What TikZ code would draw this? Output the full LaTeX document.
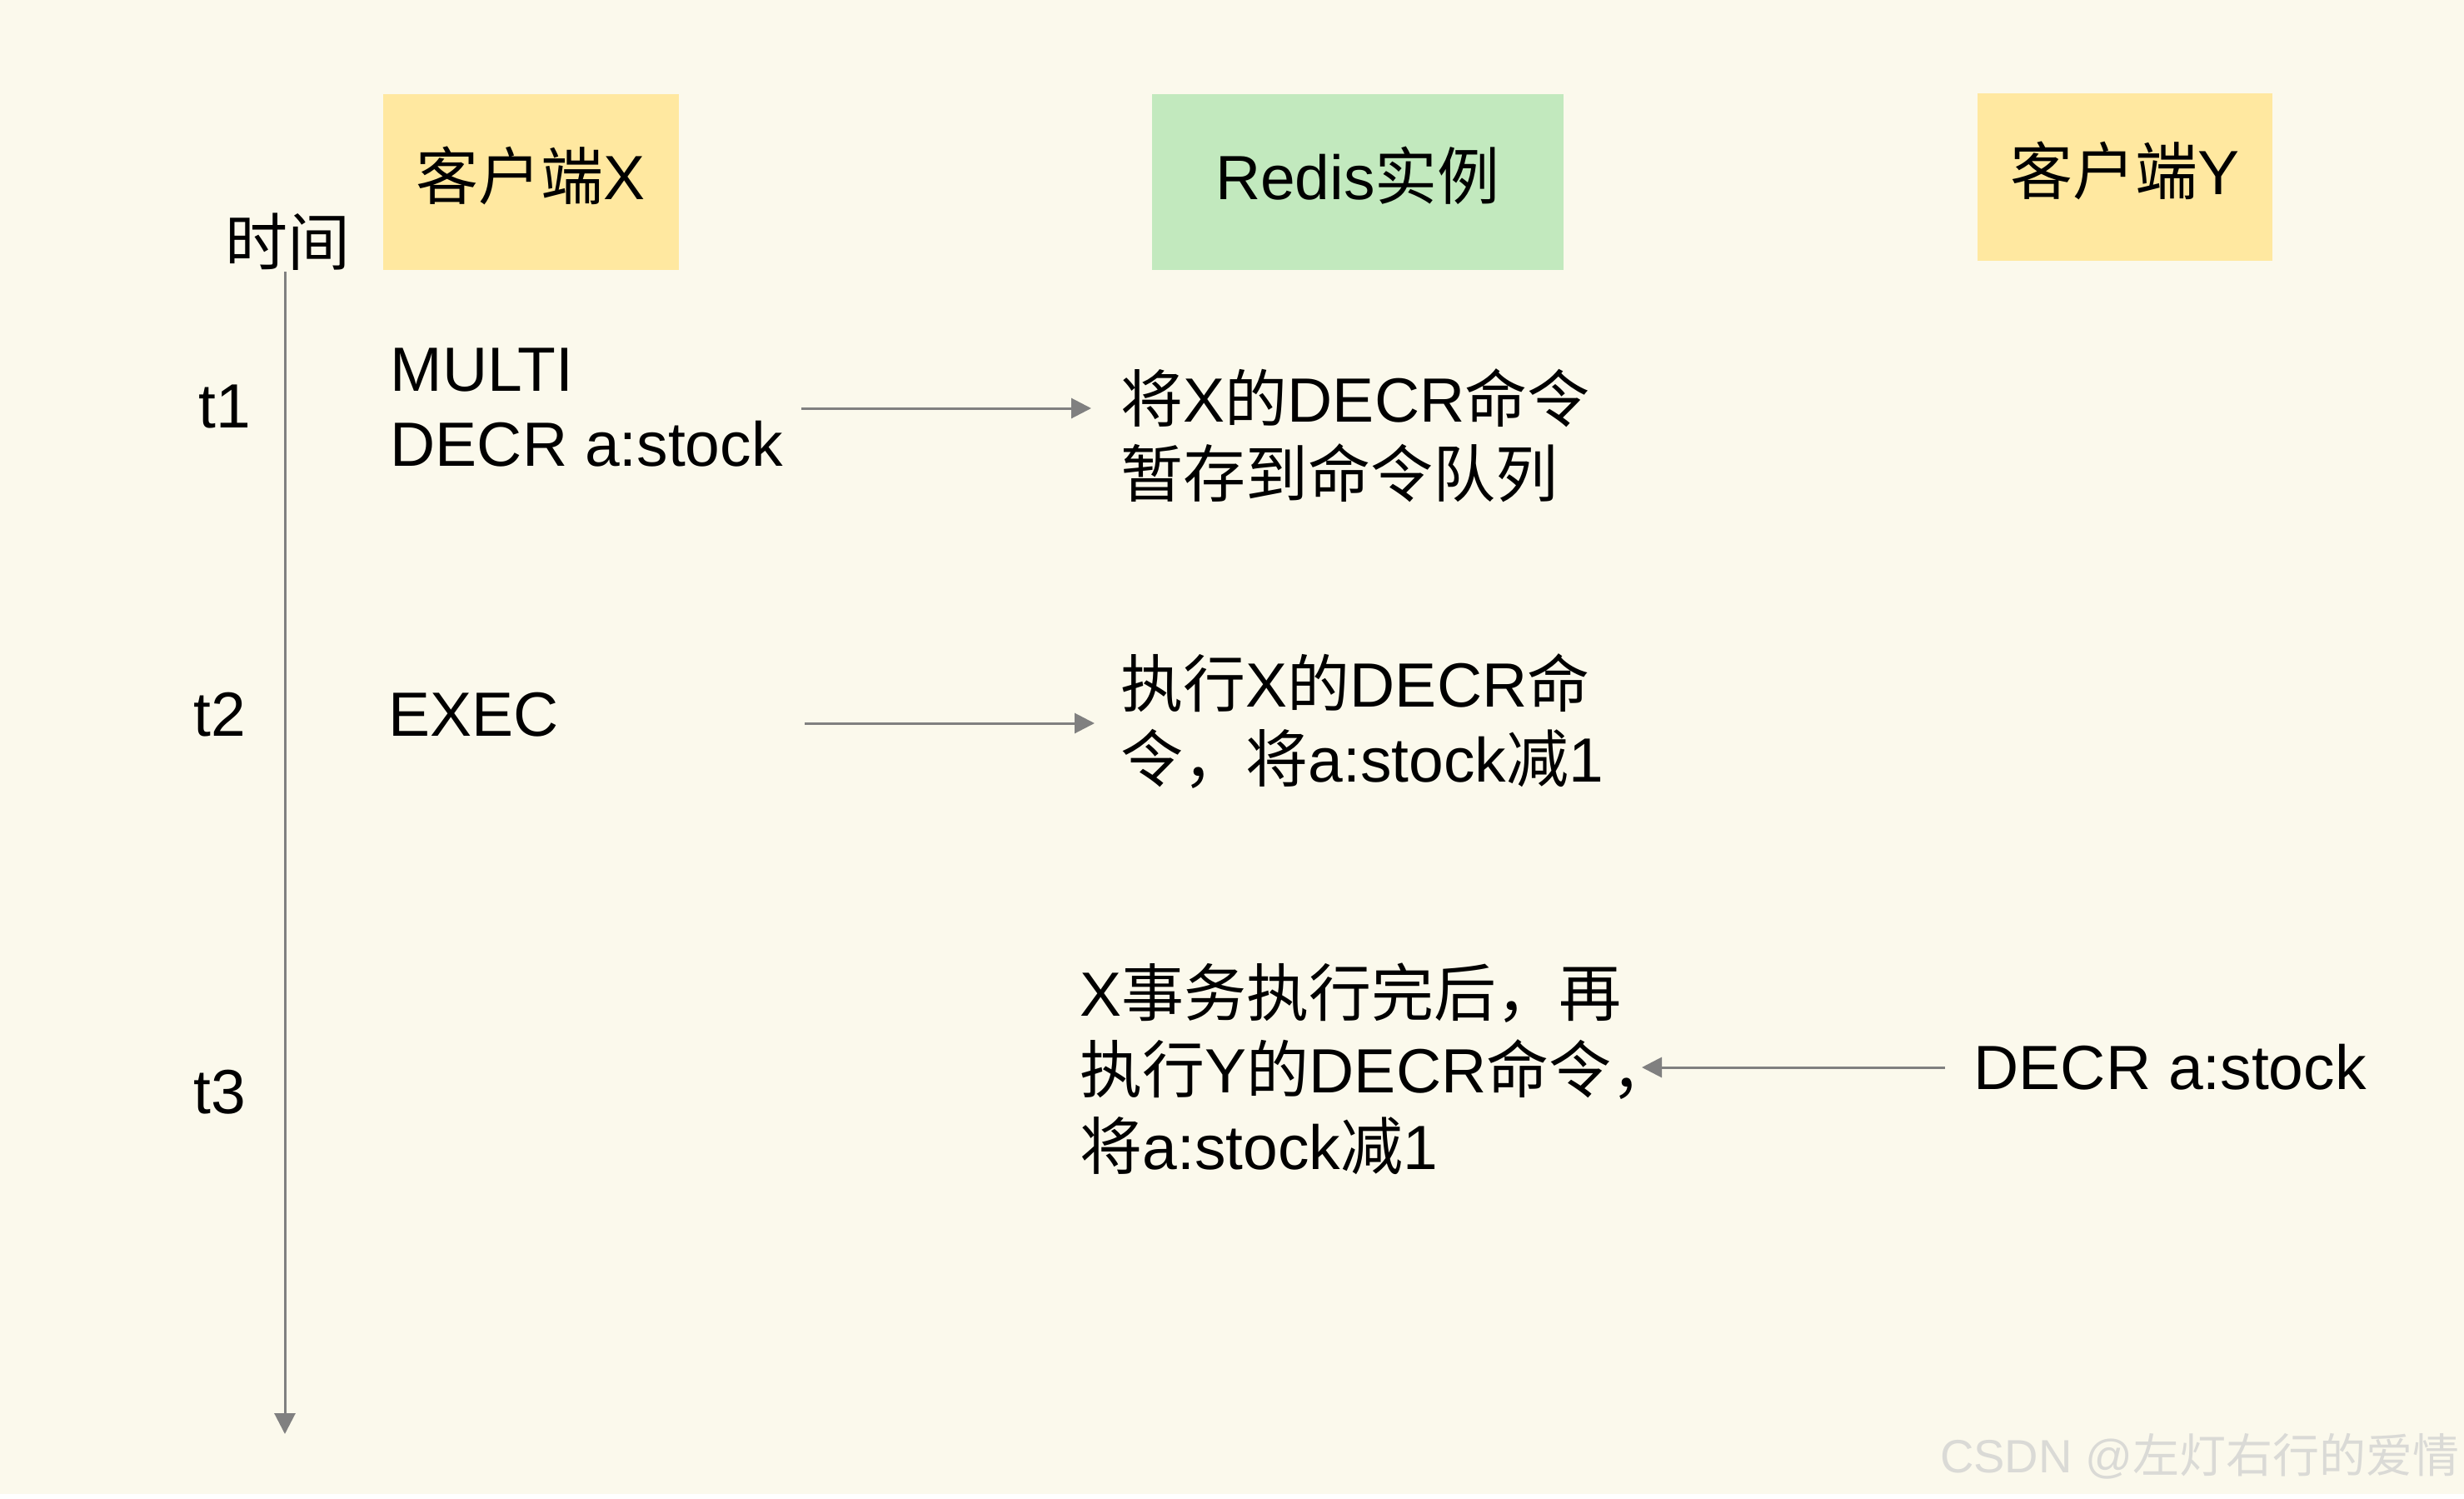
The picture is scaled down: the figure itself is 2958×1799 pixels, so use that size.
\documentclass[tikz,border=0pt]{standalone}
\usepackage{fontspec}
\setmainfont{Liberation Sans}
\newfontfamily\cjk{Noto Sans CJK SC}
\usetikzlibrary{arrows.meta}
\definecolor{bgc}{RGB}{251,249,236}
\definecolor{ybox}{RGB}{255,232,160}
\definecolor{gbox}{RGB}{194,233,190}
\definecolor{lgray}{RGB}{128,128,128}
\definecolor{wm}{RGB}{218,218,214}
\newcommand{\uplabel}[1]{\raisebox{2pt}[\height][\depth]{#1}}
\begin{document}
\begin{tikzpicture}[x=0.25pt,y=-0.25pt,
  txt/.style={inner sep=0pt, font=\fontsize{18.75}{22.5}\selectfont, align=left, text=black},
  box/.style={inner sep=0pt, font=\fontsize{18.75}{22.5}\selectfont, text=black},
  arr/.style={draw=lgray, line width=0.75pt, -{Triangle[length=6pt,width=6pt]}},
  timeline/.style={draw=lgray, line width=0.75pt, -{Triangle[length=6.25pt,width=6.25pt]}}
]
\useasboundingbox (0,0) rectangle (2958,1799);
\fill[white] (0,0) rectangle (2958,1799);
\fill[bgc] (0,0) rectangle (2958,1793);

% header boxes
\node[box, fill=ybox, minimum width=88.75pt, minimum height=52.75pt] (cx) at (637.5,218.5) {\uplabel{{\cjk 客户端}X}};
\node[box, fill=gbox, minimum width=123.5pt, minimum height=52.75pt] (rd) at (1630,218.5) {\uplabel{Redis{\cjk 实例}}};
\node[box, fill=ybox, minimum width=88.5pt, minimum height=50.25pt] (cy) at (2551,212.5) {\uplabel{{\cjk 客户端}Y}};

% time axis labels
\node[txt] (time) at (345,290) {\cjk 时间};
\node[txt] (t1) at (270,488) {t1};
\node[txt] (t2) at (264,858) {t2};
\node[txt] (t3) at (264,1311) {t3};

% client X commands
\node[txt, anchor=west] (m1) at (468,489) {MULTI\\DECR a:stock};
\node[txt, anchor=west] (ex) at (466,858) {EXEC};

% redis side texts
\node[txt, anchor=west] (r1) at (1345,523) {{\cjk 将}X{\cjk 的}DECR{\cjk 命令}\\{\cjk 暂存到命令队列}};
\node[txt, anchor=west] (r2) at (1345,866) {{\cjk 执行}X{\cjk 的}DECR{\cjk 命}\\{\cjk 令，将}a:stock{\cjk 减}1};
\node[txt, anchor=west, font=\fontsize{18.75}{23}\selectfont] (r3) at (1296,1283) {X{\cjk 事务执行完后，再}\\{\cjk 执行}Y{\cjk 的}DECR{\cjk 命令，}\\{\cjk 将}a:stock{\cjk 减}1};

% client Y command
\node[txt, anchor=west] (yd) at (2369,1281) {DECR a:stock};

% watermark
\node[inner sep=0pt, anchor=east, text=wm, font=\fontsize{14}{17}\selectfont] (wmk) at (2953,1748) {CSDN @{\cjk 左灯右行的爱情}};

% connectors
\coordinate (a1s) at (962,490);
\draw[arr, shorten >=8.75pt] (a1s) -- (a1s -| r1.west);
\coordinate (a2s) at (966,868);
\draw[arr, shorten >=7.75pt] (a2s) -- (a2s -| r2.west);
\coordinate (a3e) at (1971,1281);
\draw[arr, shorten <=8.5pt] (yd.west) -- (a3e);

% timeline
\coordinate (tA) at (342,326);
\coordinate (tB) at (342,1721);
\draw[timeline] (tA) -- (tB);
\end{tikzpicture}
\end{document}
